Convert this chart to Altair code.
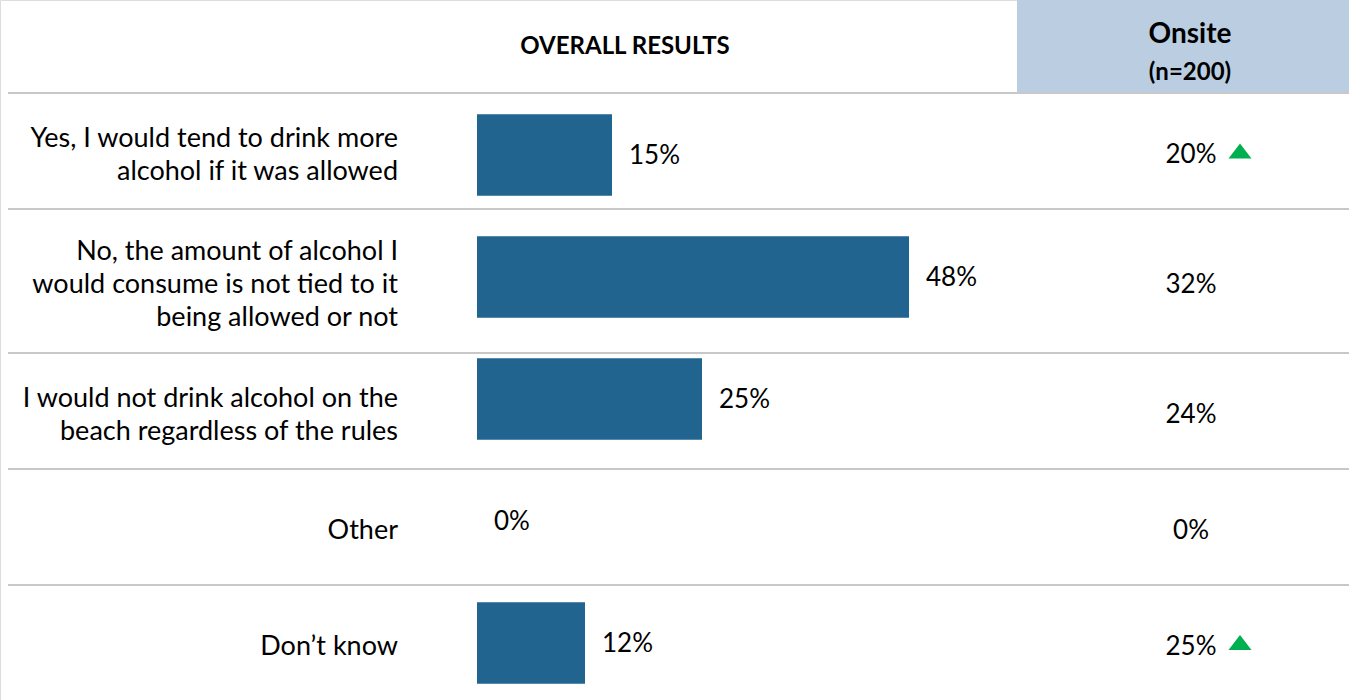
import altair as alt
import pandas as pd

categories = [
    "Yes, I would tend to drink more\nalcohol if it was allowed",
    "No, the amount of alcohol I\nwould consume is not tied to it\nbeing allowed or not",
    "I would not drink alcohol on the\nbeach regardless of the rules",
    "Other",
    "Don\u2019t know",
]
overall = [15, 48, 25, 0, 12]
onsite = [20, 32, 24, 0, 25]
onsite_up = [True, False, False, False, True]

header_overall = "OVERALL RESULTS"
header_onsite = "Onsite"
header_n = "(n=200)"

# layout (pixels)
row_edges = [93, 209, 353, 469, 585, 700]
FONT = "Lato"
FS = 26
CAT_FS = 27
LH = 33
W, H = 1349, 700

df = pd.DataFrame({
    "cat": categories,
    "overall": overall,
    "onsite": onsite,
    "up": onsite_up,
})
df["overall_lbl"] = df["overall"].astype(str) + "%"
df["onsite_lbl"] = df["onsite"].astype(str) + "%"
df["row_y"] = [(row_edges[i] + row_edges[i + 1]) / 2 for i in range(len(categories))]

xs = alt.Scale(domain=[0, 100], range=[477, 1377])
ys = alt.Scale(domain=categories, range=[94, 704], paddingInner=0.33, paddingOuter=0.165)

bars = alt.Chart(df).mark_bar(color="#21648F").encode(
    x=alt.X("overall:Q", scale=xs, axis=None),
    y=alt.Y("cat:N", scale=ys, axis=None, sort=categories),
)
bar_lbl = alt.Chart(df).mark_text(align="left", baseline="middle", dx=17, dy=1, font=FONT, fontSize=FS, color="#000000").encode(
    x=alt.X("overall:Q", scale=xs, axis=None),
    y=alt.Y("cat:N", scale=ys, axis=None, sort=categories),
    text="overall_lbl:N",
)

cat_lbl = alt.Chart(df).transform_calculate(
    ty=f"datum.row_y - (length(split(datum.cat, '\\n')) - 1) * {LH / 2} + 4"
).mark_text(align="right", baseline="middle", lineBreak="\n", lineHeight=LH,
            font=FONT, fontSize=CAT_FS, color="#000000").encode(
    x=alt.value(398),
    y=alt.Y("ty:Q", scale=None),
    text="cat:N",
)

onsite_lbl = alt.Chart(df).mark_text(align="center", baseline="middle", font=FONT, fontSize=FS, color="#000000", dy=4).encode(
    x=alt.value(1191),
    y=alt.Y("row_y:Q", scale=None),
    text="onsite_lbl:N",
)

tri = alt.Chart(df).transform_filter("datum.up").mark_point(
    shape="M-1,0.65L1,0.65L0,-0.65Z", filled=True, opacity=1, size=529, color="#00B050", strokeWidth=0
).encode(
    x=alt.value(1240),
    y=alt.Y("row_y:Q", scale=None),
)

sep = alt.Chart(pd.DataFrame({"y": row_edges[:-1]})).mark_rule(color="#C8C8C8", strokeWidth=2).encode(
    y=alt.Y("y:Q", scale=None),
    x=alt.value(8),
    x2=alt.value(W),
)

box = alt.Chart(pd.DataFrame({"a": [0]})).mark_rect(color="#BBCEE1").encode(
    x=alt.value(1017), x2=alt.value(W), y=alt.value(0), y2=alt.value(92)
)

hdr = pd.DataFrame({
    "t": [header_overall, header_onsite, header_n],
    "x": [625, 1190, 1190],
    "y": [47, 35, 73],
    "s": [24, 28, 24],
})
hdr_txt = alt.Chart(hdr).mark_text(align="center", baseline="middle", font=FONT, fontWeight="bold", color="#000000").encode(
    x=alt.X("x:Q", scale=None),
    y=alt.Y("y:Q", scale=None),
    size=alt.Size("s:Q", scale=None, legend=None),
    text="t:N",
)

chart = alt.layer(box, sep, bars, bar_lbl, cat_lbl, onsite_lbl, tri, hdr_txt).resolve_scale(
    x="independent", y="independent"
).properties(
    width=W, height=H, padding=0, autosize=alt.AutoSizeParams(type="none")
).configure_view(stroke=None).configure(background="white")

chart.save("out.html", embed_options={"renderer": "svg", "actions": False})
